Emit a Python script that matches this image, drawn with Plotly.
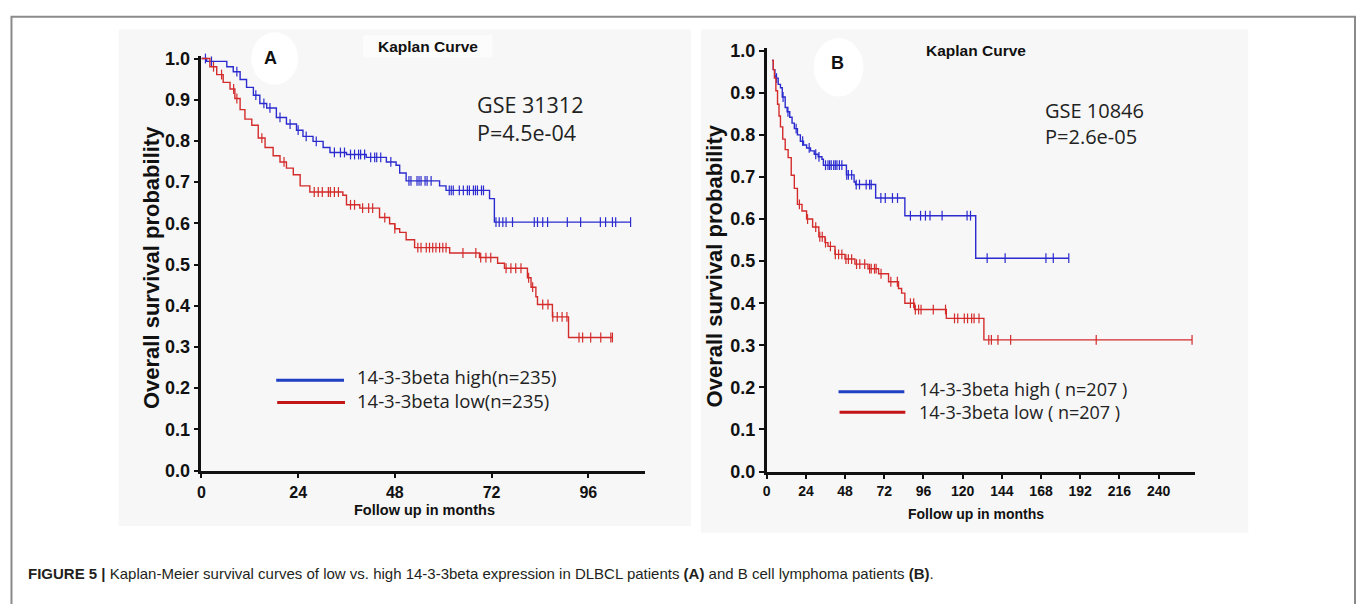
import numpy as np
import plotly.graph_objects as go

W, H = 1357, 604

# ---------------- data ----------------
# Panel A: GSE 31312, DLBCL
a_high_t = [0, 1.3, 6.3, 7.9, 9.6, 11.2, 12.9, 14.5, 16.2, 18.6, 21.1, 23.6, 25.2, 27.7,
            30.2, 31.9, 36.0, 40.9, 45.9, 48.3, 49.2, 50.8, 59.1, 60.7, 71.5, 72.7]
a_high_s = [1.0, 0.993, 0.98, 0.968, 0.949, 0.930, 0.911, 0.891, 0.880, 0.857, 0.841, 0.826,
            0.811, 0.799, 0.784, 0.772, 0.767, 0.760, 0.749, 0.741, 0.722, 0.703, 0.691,
            0.680, 0.660, 0.603]
a_high_end = 106.5
a_high_cens = [1.0, 2.5, 8.8, 13.5, 15.5, 17.0, 19.5, 22.0, 24.0, 26.0, 28.5, 33.0, 34.5, 35.5,
               37.0, 38.0, 39.0, 39.5, 40.5, 42.0, 43.0, 43.5, 44.5, 47.0, 51.5, 52.0, 53.5,
               54.0, 54.5, 55.5, 56.0, 57.0, 61.5, 62.0, 62.5, 64.0, 65.0, 66.0, 66.5, 67.5,
               68.0, 68.5, 69.5, 70.0, 73.1, 73.9, 74.8, 75.6, 77.2, 82.6, 83.4, 84.7, 85.9,
               90.8, 94.1, 99.0, 100.3, 102.0, 102.8, 106.5]

a_low_t = [0, 2.1, 3.8, 5.4, 7.1, 8.3, 9.6, 10.8, 12.5, 14.1, 15.8, 17.8, 19.5, 21.1, 22.8,
           24.5, 26.9, 35.1, 36.0, 39.3, 44.2, 46.7, 48.0, 49.2, 50.8, 52.9, 61.6, 69.0, 73.5,
           75.2, 80.9, 81.8, 83.0, 83.4, 87.1, 91.1]
a_low_s = [1.0, 0.98, 0.961, 0.942, 0.926, 0.903, 0.876, 0.853, 0.838, 0.807, 0.784, 0.764,
           0.749, 0.734, 0.718, 0.691, 0.676, 0.668, 0.645, 0.637, 0.614, 0.599, 0.587, 0.578,
           0.560, 0.541, 0.528, 0.517, 0.503, 0.491, 0.468, 0.445, 0.422, 0.403, 0.373, 0.323]
a_low_end = 102.0
a_low_cens = [3.0, 5.0, 8.0, 8.8, 15.0, 20.5, 28.0, 29.0, 30.0, 31.5, 32.0, 33.0, 34.0, 37.0,
              38.0, 40.0, 41.5, 42.5, 45.5, 48.0, 53.7, 54.5, 55.8, 56.6, 57.4, 58.2, 59.1,
              59.9, 60.7, 64.9, 68.1, 69.3, 70.6, 71.8, 75.6, 76.8, 78.0, 79.3, 81.2, 82.2,
              84.7, 86.0, 87.2, 88.3, 89.5, 90.7, 93.7, 94.6, 96.6, 99.1, 101.6, 102.0]

# Panel B: GSE 10846, B cell lymphoma
b_high_t = [3.2, 4.0, 5.0, 5.6, 7.0, 8.4, 9.5, 11.3, 12.5, 14.1, 15.5, 16.9, 18.8, 20.6, 22.5,
            24.4, 26.8, 29.1, 31.5, 33.8, 34.7, 48.8, 53.5, 54.4, 66.7, 84.6, 128.0]
b_high_s = [0.977, 0.955, 0.94, 0.935, 0.92, 0.912, 0.89, 0.865, 0.855, 0.842, 0.828, 0.815,
            0.80, 0.785, 0.776, 0.769, 0.762, 0.754, 0.748, 0.742, 0.728, 0.705, 0.688, 0.682,
            0.650, 0.608, 0.507]
b_high_end = 185.0
b_high_cens = [6.0, 10.0, 13.0, 18.0, 22.0, 26.0, 30.0, 32.0, 36.0, 37.5, 38.5, 39.5, 41.0,
               42.0, 43.0, 44.5, 46.0, 49.0, 50.0, 52.0, 54.8, 56.8, 60.9, 63.0, 64.0, 69.9,
               72.6, 77.0, 80.1, 88.0, 94.2, 97.2, 100.0, 107.4, 122.7, 124.8, 135.0, 146.0,
               171.0, 175.5, 185.0]

b_low_t = [3.2, 4.0, 4.7, 5.6, 6.6, 7.5, 8.4, 9.8, 11.3, 13.1, 15.0, 16.9, 18.8, 21.6, 24.4,
           28.1, 31.9, 35.7, 37.5, 41.8, 47.9, 54.0, 62.0, 68.5, 74.6, 80.7, 82.6, 84.6, 90.5,
           110.0, 133.0]
b_low_s = [0.977, 0.955, 0.935, 0.905, 0.873, 0.845, 0.819, 0.79, 0.765, 0.746, 0.704, 0.673,
           0.635, 0.619, 0.60, 0.581, 0.558, 0.544, 0.535, 0.516, 0.505, 0.493, 0.482, 0.47,
           0.451, 0.435, 0.424, 0.40, 0.385, 0.364, 0.313]
b_low_end = 260.5
b_low_cens = [20.0, 25.0, 30.0, 32.5, 34.0, 36.0, 39.0, 42.0, 44.0, 46.0, 48.5, 50.0, 52.0,
              55.0, 57.0, 60.0, 63.0, 64.0, 66.0, 67.0, 70.0, 76.0, 80.0, 88.0, 90.0, 91.0,
              93.0, 94.5, 102.0, 109.5, 115.0, 117.0, 121.0, 123.0, 125.5, 127.0, 130.0,
              136.0, 137.6, 141.6, 149.4, 201.8, 260.5]

a_xticks = [0, 24, 48, 72, 96]
b_xticks = [0, 24, 48, 72, 96, 120, 144, 168, 192, 216, 240]
y_ticks = [0.0, 0.1, 0.2, 0.3, 0.4, 0.5, 0.6, 0.7, 0.8, 0.9, 1.0]

a_labels = ["14-3-3beta high(n=235)", "14-3-3beta low(n=235)"]
b_labels = ["14-3-3beta high ( n=207 )", "14-3-3beta low ( n=207 )"]
a_stats = ["GSE 31312", "P=4.5e-04"]
b_stats = ["GSE 10846", "P=2.6e-05"]

BLUE = "#2b2bcf"
RED = "#d42b2b"
LEG_BLUE = "#1f3fc4"
LEG_RED = "#c41616"


def px(x):
    return x / W


def py(y):
    return 1 - y / H


def step_xy(t, s, end):
    return list(t) + [end], list(s) + [s[-1]]


def cens_y(t, s, c):
    idx = np.searchsorted(np.array(t), np.array(c), side="right") - 1
    idx = np.clip(idx, 0, len(s) - 1)
    return list(np.array(s)[idx])


fig = go.Figure()


def add_curve(t, s, end, cens, color, xa, ya):
    x, y = step_xy(t, s, end)
    fig.add_trace(go.Scatter(x=x, y=y, mode="lines", line=dict(color=color, width=1.4, shape="hv"),
                             xaxis=xa, yaxis=ya, showlegend=False, hoverinfo="skip"))
    fig.add_trace(go.Scatter(x=cens, y=cens_y(t, s, cens), mode="markers",
                             marker=dict(symbol="line-ns", size=7, line=dict(color=color, width=1.2)),
                             xaxis=xa, yaxis=ya, showlegend=False, cliponaxis=False, hoverinfo="skip"))


add_curve(a_high_t, a_high_s, a_high_end, a_high_cens, BLUE, "x", "y")
add_curve(a_low_t, a_low_s, a_low_end, a_low_cens, RED, "x", "y")
add_curve(b_high_t, b_high_s, b_high_end, b_high_cens, BLUE, "x2", "y2")
add_curve(b_low_t, b_low_s, b_low_end, b_low_cens, RED, "x2", "y2")

# ---- axes geometry (pixels) ----
A_x0, A_pxpm = 198, 97 / 24.0
A_xmax = 110.0
A_ybot, A_ytop = 477, 53
B_x0, B_pxpm = 765, 393 / 240.0
B_xmax = 262.0
B_ybot, B_ytop = 478, 45
YMAX = 1.006

axis_common = dict(showline=True, linecolor="#111111", linewidth=2.6, ticks="outside",
                   ticklen=5, tickwidth=2, tickcolor="#111111", showgrid=False, zeroline=False)

fig.update_layout(
    width=W, height=H, autosize=False,
    margin=dict(l=0, r=0, t=0, b=0),
    paper_bgcolor="white", plot_bgcolor="rgba(0,0,0,0)",
    xaxis=dict(domain=[px(A_x0), px(A_x0 + A_xmax * A_pxpm)], range=[0, A_xmax],
               tickvals=a_xticks, anchor="y",
               tickfont=dict(family="Liberation Sans Narrow, Liberation Sans, Arial", size=16,
                             color="#111", weight="bold"), **axis_common),
    yaxis=dict(domain=[py(A_ybot), py(A_ybot - (A_ybot - A_ytop) * YMAX)], range=[0, YMAX],
               tickvals=y_ticks, tickformat=".1f", anchor="x",
               tickfont=dict(family="Liberation Sans, Arial", size=18, color="#111", weight="bold"),
               **axis_common),
    xaxis2=dict(domain=[px(B_x0), px(B_x0 + B_xmax * B_pxpm)], range=[0, B_xmax],
                tickvals=b_xticks, anchor="y2",
                tickfont=dict(family="Liberation Sans Narrow, Liberation Sans, Arial", size=14,
                              color="#111", weight="bold"), **axis_common),
    yaxis2=dict(domain=[py(B_ybot), py(B_ybot - (B_ybot - B_ytop) * YMAX)], range=[0, YMAX],
                tickvals=y_ticks, tickformat=".1f", anchor="x2",
                tickfont=dict(family="Liberation Sans, Arial", size=18, color="#111", weight="bold"),
                **axis_common),
)

shapes = []
# outer figure frame
shapes.append(dict(type="rect", xref="paper", yref="paper", x0=px(7.5), x1=px(1355), y0=-0.05,
                   y1=py(10), line=dict(color="#8a8a8a", width=2), fillcolor="rgba(0,0,0,0)",
                   layer="below"))
# panel backgrounds
shapes.append(dict(type="rect", xref="paper", yref="paper", x0=px(115), x1=px(689), y0=py(534),
                   y1=py(23), line=dict(width=0), fillcolor="#f7f7f7", layer="below"))
shapes.append(dict(type="rect", xref="paper", yref="paper", x0=px(699), x1=px(1248), y0=py(541),
                   y1=py(23), line=dict(width=0), fillcolor="#f7f7f7", layer="below"))
# white blobs behind panel letters / titles
shapes.append(dict(type="circle", xref="paper", yref="paper", x0=px(248), x1=px(295), y0=py(80),
                   y1=py(26), line=dict(width=0), fillcolor="white", layer="below"))
shapes.append(dict(type="circle", xref="paper", yref="paper", x0=px(812), x1=px(862), y0=py(92),
                   y1=py(32), line=dict(width=0), fillcolor="white", layer="below"))
shapes.append(dict(type="rect", xref="paper", yref="paper", x0=px(360), x1=px(490), y0=py(52),
                   y1=py(29), line=dict(width=0), fillcolor="#fcfcfc", layer="below"))
# legend sample lines
for (x0, x1, y, c) in [(273, 341, 384, LEG_BLUE), (274, 342, 407, LEG_RED),
                       (837, 903, 396, LEG_BLUE), (838, 904, 417, LEG_RED)]:
    shapes.append(dict(type="line", xref="paper", yref="paper", x0=px(x0), x1=px(x1), y0=py(y),
                       y1=py(y), line=dict(color=c, width=3)))
fig.update_layout(shapes=shapes)

ann = []


def text(x, y, s, size, family="Liberation Sans, Arial", bold=False, xanchor="center",
         angle=0, color="#111", align="center"):
    ann.append(dict(x=px(x), y=py(y), xref="paper", yref="paper", text=s, showarrow=False,
                    xanchor=xanchor, yanchor="middle", textangle=angle, align=align,
                    font=dict(family=family, size=size, color=color,
                              weight="bold" if bold else "normal")))


text(425, 41, "Kaplan Curve", 15.5, bold=True)
text(975, 45, "Kaplan Curve", 15.5, bold=True)
text(267, 52, "A", 18, bold=True)
text(836, 58, "B", 18, bold=True)
text(148, 268, "Overall survival probability", 22, bold=True, angle=-90)
text(713, 266, "Overall survival probability", 22, bold=True, angle=-90)
text(422, 518, "Follow up in months", 14.5, bold=True)
text(975, 522, "Follow up in months", 14, family="Liberation Sans Narrow, Liberation Sans, Arial",
     bold=True)
text(472, 115, "<br>".join(a_stats), 21.5, family="Open Sans", xanchor="left", color="#222",
     align="left")
text(1042, 120, "<br>".join(b_stats), 20, family="Open Sans", xanchor="left", color="#222",
     align="left")
text(352, 393, "<br>".join(a_labels), 18.5, family="Open Sans", xanchor="left", color="#222",
     align="left")
text(916, 405, "<br>".join(b_labels), 18, family="Open Sans", xanchor="left", color="#222",
     align="left")
text(22, 583, "<b>FIGURE 5 |</b> Kaplan-Meier survival curves of low vs. high 14-3-3beta expression "
              "in DLBCL patients <b>(A)</b> and B cell lymphoma patients <b>(B)</b>.",
     15, xanchor="left", color="#231f20")
fig.update_layout(annotations=ann)

fig.write_html("out.html", config={"displayModeBar": False},
               post_script="document.body.style.margin='0';document.body.style.overflow='hidden';")
